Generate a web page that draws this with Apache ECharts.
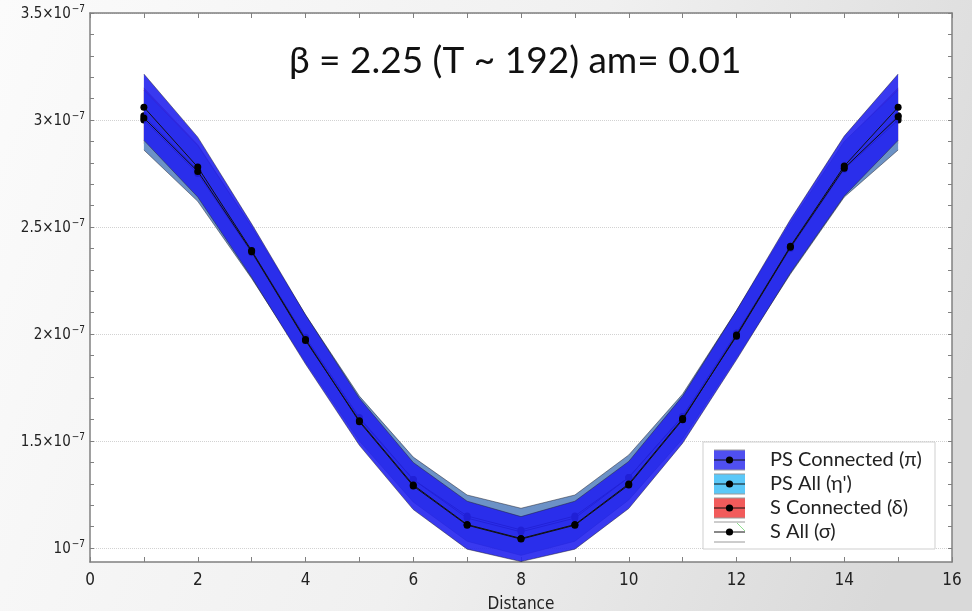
<!DOCTYPE html>
<html><head><meta charset="utf-8">
<script src="https://cdn.jsdelivr.net/npm/echarts@6/dist/echarts.min.js"></script>
<style>html,body{margin:0;padding:0;}#c{width:972px;height:611px;}</style>
</head><body><div id="c"></div>
<script>
// values in units of 1e-7
const distance = [1,2,3,4,5,6,7,8,9,10,11,12,13,14,15];
const psConnected    = [3.06, 2.78, 2.39, 1.975, 1.59, 1.29, 1.107, 1.042, 1.107, 1.295, 1.60, 1.995, 2.41, 2.785, 3.06];
const psConnectedErr = [0.155, 0.14, 0.125, 0.115, 0.11, 0.11, 0.112, 0.105, 0.112, 0.11, 0.11, 0.115, 0.125, 0.14, 0.155];
const psAll          = [3.00, 2.75, 2.38, 1.98, 1.605, 1.32, 1.14, 1.076, 1.14, 1.33, 1.615, 2.00, 2.40, 2.77, 3.00];
const psAllErr       = [0.14, 0.13, 0.12, 0.11, 0.105, 0.105, 0.108, 0.11, 0.108, 0.105, 0.105, 0.11, 0.12, 0.13, 0.14];
const sConnected     = [3.02, 2.765, 2.39, 1.985, 1.61, 1.32, 1.15, 1.085, 1.15, 1.33, 1.615, 2.005, 2.405, 2.775, 3.02];
const sConnectedErr  = [0.13, 0.12, 0.11, 0.1, 0.09, 0.085, 0.085, 0.085, 0.085, 0.085, 0.09, 0.1, 0.11, 0.12, 0.13];
const sAll           = [3.01, 2.76, 2.385, 1.97, 1.595, 1.295, 1.11, 1.045, 1.11, 1.30, 1.605, 1.99, 2.405, 2.775, 3.015];
const xTicks = [0,2,4,6,8,10,12,14,16];
const yMajorTicks = [1,1.5,2,2.5,3,3.5];
const yMinorTicks = [1.0,1.1,1.2,1.3,1.4,1.5,1.6,1.7,1.8,1.9,2.0,2.1,2.2,2.3,2.4,2.5,2.6,2.7,2.8,2.9,3.0,3.1,3.2,3.3,3.4,3.5];
const legendNames = ['PS Connected (π)', 'PS All (η\')', 'S Connected (δ)', 'S All (σ)'];
const legendColors = ['#4f4ff0', '#5bc8f8', '#f25b5b', '#ffffff'];

const NARROW = '"Liberation Sans Narrow","DejaVu Sans Condensed","Liberation Sans",sans-serif';
const HUMAN = 'Lato,"Open Sans",sans-serif';
const Y_MIN = 0.935, Y_MAX = 3.5;

function pairs(vals){ return distance.map((x,i)=>[x, vals[i]]); }
function band(name, center, err, color, z){
  const lo = center.map((v,i)=>v-err[i]);
  const hi = center.map((v,i)=>v+err[i]);
  return {
    type:'custom', name, z, silent:true,
    data: distance.map((x,i)=>[x, lo[i], hi[i]]),
    encode:{x:0, y:[1,2]},
    renderItem:(params, api)=>{
      if (params.dataIndex !== 0) return null;
      const up = distance.map((x,i)=>api.coord([x, hi[i]]));
      const dn = distance.map((x,i)=>api.coord([x, lo[i]]));
      const edge = {stroke:'rgba(30,30,40,0.6)', lineWidth:0.8, fill:null};
      return {type:'group', children:[
        {type:'polygon', shape:{points: up.concat(dn.slice().reverse())}, style:{fill:color}},
        {type:'polyline', shape:{points: up}, style:edge},
        {type:'polyline', shape:{points: dn}, style:edge}
      ]};
    }
  };
}
function centerLine(name, vals, z){
  return {type:'line', name, data:pairs(vals), symbol:'circle', symbolSize:7,
    itemStyle:{color:'#000'}, lineStyle:{color:'#111', width:1}, z, silent:true};
}

const series = [
  band(legendNames[2], sConnected, sConnectedErr, 'rgb(240,90,90)', 1),
  band(legendNames[1], psAll, psAllErr, 'rgb(108,146,198)', 1),
  centerLine(legendNames[1], psAll, 1),
  centerLine(legendNames[2], sConnected, 1),
  band(legendNames[0], psConnected, psConnectedErr, 'rgba(36,36,238,0.9)', 2),
  centerLine(legendNames[0], psConnected, 3),
  centerLine(legendNames[3], sAll, 3)
];

// legend drawn as graphic
const graphic = [];
const LX = 703, LY = 442;
graphic.push({type:'rect', shape:{x:LX, y:LY, width:232, height:107}, style:{fill:'#fff', stroke:'#cfcfcf', lineWidth:1}, z:100});
legendNames.forEach((n,i)=>{
  const cy = 460 + 24*i, x0 = 714, x1 = 745;
  graphic.push({type:'rect', shape:{x:x0, y:cy-10, width:x1-x0, height:20}, style:{fill:legendColors[i]}, z:101});
  graphic.push({type:'line', shape:{x1:x0, y1:cy-10, x2:x1, y2:cy-10}, style:{stroke:'#9a9a9a', lineWidth:1}, z:102});
  graphic.push({type:'line', shape:{x1:x0, y1:cy+10, x2:x1, y2:cy+10}, style:{stroke:'#9a9a9a', lineWidth:1}, z:102});
  if (i === 3) graphic.push({type:'line', shape:{x1:737, y1:cy-9, x2:745, y2:cy-1}, style:{stroke:'#8fe08f', lineWidth:1}, z:102});
  graphic.push({type:'line', shape:{x1:x0, y1:cy, x2:x1, y2:cy}, style:{stroke:'#111', lineWidth:1}, z:103});
  graphic.push({type:'circle', shape:{cx:(x0+x1)/2, cy, r:3.6}, style:{fill:'#000'}, z:104});
  graphic.push({type:'text', x:770, y:cy, style:{text:n, font:'20px '+HUMAN, fill:'#222', textVerticalAlign:'middle'}, z:104});
});

const axisLineStyle = {color:'#808080', width:1.5};
const option = {
  animation:false,
  backgroundColor:{type:'linear', x:0, y:0, x2:1, y2:0.6, colorStops:[{offset:0,color:'#fbfbfb'},{offset:0.55,color:'#f0f0f0'},{offset:1,color:'#d9d9d9'}]},
  title:{text:'β = 2.25 (T ~ 192) am= 0.01', left:284, top:38, textStyle:{fontSize:37, fontWeight:'normal', fontFamily:HUMAN, color:'#111'}},
  grid:{left:90, right:20, top:13, bottom:49, show:true, backgroundColor:'#fff', borderWidth:0, outerBoundsMode:'none', containLabel:false},
  xAxis:[
    {type:'value', min:0, max:16, interval:1, position:'bottom',
     axisLine:{show:true, onZero:false, lineStyle:axisLineStyle},
     axisTick:{show:true, inside:true, length:5, lineStyle:{color:'#808080'}},
     axisLabel:{customValues:xTicks, margin:10, fontSize:17, color:'#222', fontFamily:NARROW},
     splitLine:{show:false},
     name:'Distance', nameLocation:'middle', nameGap:34, nameTextStyle:{fontSize:17, color:'#222', fontFamily:NARROW}},
    {type:'value', min:0, max:16, interval:1, position:'top',
     axisLine:{show:true, onZero:false, lineStyle:axisLineStyle},
     axisTick:{show:true, inside:true, length:5, lineStyle:{color:'#808080'}},
     axisLabel:{show:false}, splitLine:{show:false}}
  ],
  yAxis:[
    {type:'value', min:Y_MIN, max:Y_MAX, position:'left',
     axisLine:{show:true, onZero:false, lineStyle:axisLineStyle},
     axisTick:{show:true, inside:true, length:4, customValues:yMinorTicks, lineStyle:{color:'#808080'}},
     axisLabel:{customValues:yMajorTicks, margin:5,
       formatter:v=>{const r=Math.round(v*10)/10; return r===1 ? '{a|10}{s|−7}' : '{a|'+r+'×10}{s|−7}';},
       rich:{a:{fontSize:15, color:'#222', fontFamily:NARROW, verticalAlign:'bottom'},
             s:{fontSize:10, color:'#222', fontFamily:NARROW, verticalAlign:'bottom', padding:[0,0,8,1]}}},
     splitLine:{show:false}},
    {type:'value', min:Y_MIN, max:Y_MAX, position:'left',
     axisLine:{show:false}, axisTick:{show:false, customValues:yMajorTicks}, axisLabel:{show:false},
     splitLine:{show:true, lineStyle:{color:'#d2d2d2', type:'dotted', width:1}}},
    {type:'value', min:Y_MIN, max:Y_MAX, position:'right',
     axisLine:{show:true, onZero:false, lineStyle:axisLineStyle},
     axisTick:{show:true, inside:true, length:4, customValues:yMinorTicks, lineStyle:{color:'#808080'}},
     axisLabel:{show:false}, splitLine:{show:false}}
  ],
  series,
  graphic
};
const chart = echarts.init(document.getElementById('c'));
chart.setOption(option);
</script></body></html>
